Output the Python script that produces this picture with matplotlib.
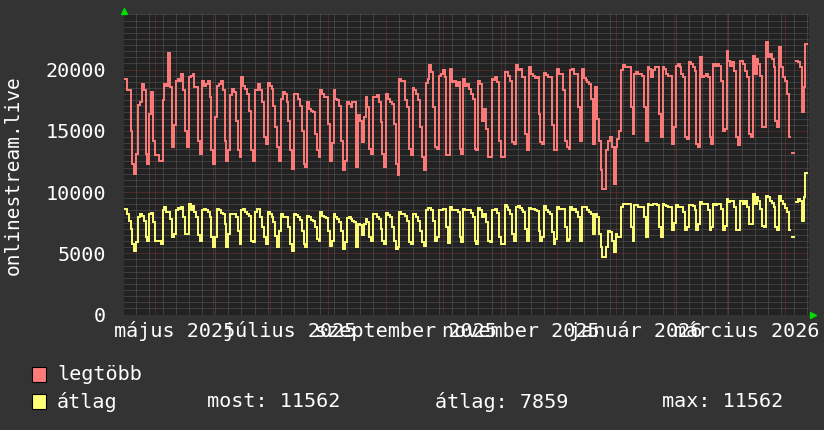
import numpy as np
import pandas as pd
import matplotlib
matplotlib.use("Agg")
import matplotlib.pyplot as plt
import matplotlib.dates as mdates
from matplotlib.patches import Rectangle
from matplotlib.ticker import MultipleLocator
from matplotlib.transforms import blended_transform_factory

nan = float("nan")

# daily values from 2025-04-15 (Tue), one row per week
start_day = "2025-04-15"
legtobb = [
    19240, 18290, 18290, 15000, 12300, 11480, 13120,
    17140, 17330, 18830, 18290, 13120, 12300, 16380,
    18150, 14200, 12980, 12980, 12570, 12570, 17470,
    18830, 18690, 21330, 18560, 13660, 15500, 19100,
    19240, 19100, 19650, 18290, 15000, 13660, 19370,
    19510, 19650, 18560, 18560, 14200, 13120, 19100,
    18690, 18830, 19100, 17740, 13390, 12300, 16100,
    18690, 18830, 19100, 18290, 14200, 12570, 13390,
    17880, 18420, 18150, 15830, 13390, 12840, 19370,
    18690, 18420, 18010, 16650, 13390, 12570, 18290,
    18290, 18830, 18290, 17330, 14470, 13930, 18880,
    18690, 18420, 17060, 15290, 13660, 12570, 17600,
    18150, 18010, 17330, 15830, 13390, 11890, 18010,
    18010, 17600, 17060, 15010, 12300, 12030, 17330,
    16790, 16650, 16520, 14750, 13390, 12840, 18290,
    18010, 17740, 17740, 15560, 12570, 14000, 18290,
    17600, 17470, 17060, 14200, 11760, 12500, 17330,
    17200, 16920, 17330, 17330, 12030, 16250, 15830,
    14060, 16110, 17740, 16920, 13530, 13120, 17740,
    17740, 17880, 17330, 15700, 13120, 12030, 18010,
    17600, 17330, 17200, 15560, 12300, 11350, 19240,
    19100, 19100, 17470, 16920, 13530, 13000, 18500,
    18290, 18010, 17470, 15290, 12840, 11760, 18880,
    19240, 20330, 19780, 16920, 13660, 13530, 19510,
    19650, 19920, 19370, 13000, 12980, 20060, 18970,
    19100, 18690, 18970, 13530, 13120, 19240, 18690,
    18830, 18420, 18010, 17600, 13530, 13390, 19100,
    18830, 15830, 16790, 15150, 12840, 12840, 19240,
    19170, 19370, 18970, 14200, 12840, 12840, 19780,
    19780, 19510, 19100, 14060, 13930, 20330, 19920,
    20060, 19370, 19370, 14750, 13390, 20190, 19650,
    19510, 19320, 19370, 16380, 14060, 13930, 19700,
    19540, 19370, 19370, 15430, 13390, 13390, 20060,
    19650, 19650, 18290, 14200, 13660, 13530, 19920,
    20060, 19650, 19650, 16920, 14200, 20060, 19320,
    19170, 18970, 18830, 17600, 13930, 18560, 15970,
    14200, 11760, 10260, 10260, 13390, 14200, 14470,
    13660, 10660, 13660, 14340, 15020, 19920, 20330,
    20190, 20190, 20190, 16920, 14750, 19650, 19780,
    19650, 19650, 19510, 16920, 14200, 20190, 20060,
    19370, 19920, 20190, 20190, 16380, 14500, 20190,
    20060, 19650, 19510, 19510, 13930, 15290, 20320,
    20460, 20180, 19640, 19370, 14480, 14340, 20590,
    20460, 20180, 19910, 13930, 13660, 21000, 19370,
    19500, 19640, 19370, 14480, 13930, 20460, 20320,
    20460, 20320, 19100, 15020, 15150, 21550, 20730,
    20320, 20590, 19910, 14480, 13800, 20730, 20730,
    20460, 19910, 19370, 14750, 14480, 21140, 19640,
    20870, 20460, 19500, 15290, 15290, 22230, 21000,
    21280, 20870, 20180, 15830, 15290, 21820, 20180,
    19370, 19100, 18010, 14480, nan, 13170, nan,
    20730, 20590, 20180, 16510, 18560, 22090,
]
atlag = [
    8630, 8220, 7670, 6990, 5770, 5220, 5900,
    8000, 8220, 8080, 7670, 6310, 6040, 8220,
    8270, 7540, 6040, 6040, 6040, 5770, 8490,
    8760, 8350, 8350, 7810, 6310, 6580, 8490,
    8680, 8630, 8760, 7940, 6580, 6580, 9030,
    8490, 8840, 8350, 7940, 6450, 6040, 8490,
    8630, 8540, 8350, 7940, 6310, 5500, 6310,
    8630, 8490, 8270, 8220, 7400, 5500, 6580,
    8220, 8220, 8220, 7940, 6850, 5770, 8490,
    8630, 8350, 8220, 8080, 6040, 5900, 8350,
    8630, 8630, 7940, 7130, 6310, 5770, 8350,
    8220, 8000, 7540, 6370, 5500, 6850, 8170,
    8000, 7940, 7940, 7130, 5770, 5220, 8220,
    8140, 8000, 7730, 6850, 5770, 5500, 8080,
    7940, 7750, 7670, 7130, 6180, 6000, 8350,
    8080, 7940, 7860, 6850, 5630, 6040, 8220,
    8000, 7810, 7590, 6850, 5360, 5900, 7890,
    7940, 7810, 7670, 7540, 5500, 7400, 7300,
    6450, 7400, 7810, 7540, 6310, 6000, 8220,
    8220, 8000, 7810, 6990, 6040, 5770, 8270,
    8140, 7940, 7130, 6040, 5360, 5500, 8350,
    8220, 8170, 8080, 7670, 5900, 5770, 8170,
    8170, 8000, 7670, 6850, 5900, 5630, 8540,
    8710, 8680, 8490, 7670, 6040, 6310, 8570,
    8540, 8630, 8630, 7130, 5820, 8760, 8540,
    8570, 8570, 8350, 6310, 5900, 8630, 8540,
    8490, 8490, 8270, 7940, 6040, 5770, 8710,
    8490, 8000, 8170, 7540, 6040, 5900, 8570,
    8490, 8630, 8270, 6310, 5720, 5720, 8900,
    8760, 8490, 8220, 6580, 6040, 8760, 8840,
    8680, 8490, 8350, 7000, 6040, 8710, 8630,
    8630, 8490, 8430, 6850, 6040, 6300, 8820,
    8540, 8350, 8220, 6720, 5770, 6200, 8760,
    8630, 8630, 8630, 7130, 6040, 6200, 8760,
    8540, 8630, 8350, 7940, 6040, 8760, 8760,
    8760, 8570, 8350, 8220, 6580, 8220, 7940,
    6580, 5500, 4680, 4680, 5500, 6850, 6720,
    6040, 5090, 6580, 6310, 6310, 8760, 9030,
    9030, 9030, 9030, 7130, 6040, 8900, 8900,
    8760, 8760, 8760, 7940, 6310, 9030, 8950,
    8900, 8980, 9030, 8900, 7130, 6310, 9030,
    8900, 8820, 8760, 8760, 6860, 7500, 8900,
    8760, 8760, 8760, 8350, 6860, 7130, 8900,
    8900, 8820, 8490, 6860, 7400, 9170, 8980,
    8980, 9030, 8490, 6860, 7130, 9030, 8900,
    8980, 9030, 8620, 6860, 7260, 9440, 9170,
    9250, 9300, 8760, 6860, 6860, 9300, 9250,
    9030, 9250, 8760, 7400, 7400, 9850, 9030,
    9570, 9300, 8620, 7260, 7130, 9710, 9570,
    9300, 9080, 8760, 7130, 6860, 9710, 9300,
    9030, 8710, 8350, 6910, nan, 6310, nan,
    9170, 9440, 9300, 7670, 9570, 11562,
]

y_ticks = [0, 5000, 10000, 15000, 20000]
month_labels = ["május 2025", "július 2025", "szeptember 2025",
                "november 2025", "január 2026", "március 2026"]
label_days = ["2025-05-11 14:00", "2025-07-11 14:00", "2025-09-11 14:00",
              "2025-11-11 14:00", "2026-01-11 14:00", "2026-03-11 14:00"]
series_names = ["legtöbb", "átlag"]
series_colors = ["#ff7b7b", "#ffff77"]
stat_labels = ["most: 11562", "átlag: 7859", "max: 11562"]

BG = "#333333"
CANVAS = "#222222"
FONT = "DejaVu Sans Mono"

W, H = 824, 430
fig = plt.figure(figsize=(W / 100, H / 100), dpi=100, facecolor=BG)
ax = fig.add_axes([124 / W, (H - 314.5) / H, 685 / W, 300.5 / H])
ax.set_facecolor(CANVAS)

n = len(legtobb)
edges = mdates.date2num(pd.date_range(start_day, periods=n + 1, freq="D").to_pydatetime())
t0 = mdates.date2num(pd.Timestamp(start_day).to_pydatetime()) - 0.48
ax.set_xlim(t0, t0 + 685 / 1.88)
ax.set_ylim(0, 300.5 / 61.25 * 5000)

# grid: weekly / 500 minor, monthly / 5000 major
ax.xaxis.set_minor_locator(mdates.WeekdayLocator(byweekday=mdates.MO))
ax.xaxis.set_major_locator(mdates.MonthLocator())
ax.yaxis.set_minor_locator(MultipleLocator(500))
ax.yaxis.set_major_locator(MultipleLocator(5000))
ax.grid(which="minor", color="#5a5a5a", lw=0.72, ls=(0, (1, 1)))
ax.grid(which="major", color="#7a3535", lw=0.72, ls=(0, (1, 1)))
ax.set_axisbelow(True)

for vals, col in zip([legtobb, atlag], series_colors):
    v = np.array(vals, dtype=float)
    xs = np.repeat(edges, 2)[1:-1]
    ys = np.repeat(v, 2)
    ax.plot(xs, ys, color=col, lw=1.4, solid_joinstyle="miter")

for s in ax.spines.values():
    s.set_visible(False)
ax.tick_params(which="both", length=0)
ax.set_xticklabels([])
ax.set_xticklabels([], minor=True)
ax.set_yticks(y_ticks)
ax.set_yticklabels([str(t) for t in y_ticks], fontfamily=FONT, fontsize=14.5, color="white")
ax.tick_params(axis="y", pad=13)

# arrows at axis ends
ax.plot([0], [1.01], marker="^", ms=5, color="#00dd00", transform=ax.transAxes, clip_on=False)
ax.plot([1.006], [0.0], marker=">", ms=5, color="#00dd00", transform=ax.transAxes, clip_on=False)

tr = blended_transform_factory(ax.transData, ax.transAxes)
for lab, d in zip(month_labels, label_days):
    ax.text(mdates.date2num(pd.Timestamp(d).to_pydatetime()), -0.055, lab,
            transform=tr, ha="center", va="center", fontfamily=FONT,
            fontsize=14.5, color="white", clip_on=False)

fig.text(13 / W, 1 - 175 / H, "onlinestream.live", rotation=90, ha="center", va="center",
         fontfamily=FONT, fontsize=14, color="white")

# legend
for i, (name, col) in enumerate(zip(series_names, series_colors)):
    yc = 374 + 27.5 * i
    fig.patches.append(Rectangle((32 / W, 1 - (yc + 7.5) / H), 14 / W, 15 / H,
                                 transform=fig.transFigure, facecolor=col,
                                 edgecolor="black", lw=0.8))
    fig.text(57 / W, 1 - yc / H, name, ha="left", va="center",
             fontfamily=FONT, fontsize=14.5, color="white")
for txt, x in zip(stat_labels, [207, 435, 662]):
    fig.text(x / W, 1 - 401.5 / H, txt, ha="left", va="center",
             fontfamily=FONT, fontsize=14.5, color="white")

fig.savefig("out.png", dpi=100, facecolor=BG)
